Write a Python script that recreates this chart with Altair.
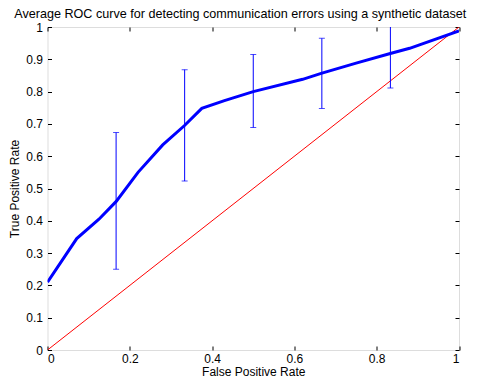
import altair as alt
import pandas as pd

# ROC curve (mean)
roc_fpr = [0.0, 0.071, 0.125, 0.167, 0.22, 0.28, 0.333, 0.375, 0.43, 0.5, 0.62, 0.667, 0.75, 0.833, 0.88, 1.0]
roc_tpr = [0.21, 0.345, 0.405, 0.46, 0.55, 0.635, 0.695, 0.748, 0.772, 0.80, 0.838, 0.857, 0.888, 0.918, 0.934, 0.988]

# error bars
err_fpr = [0.1667, 0.3333, 0.5, 0.6667, 0.8333]
err_low = [0.25, 0.523, 0.689, 0.748, 0.811]
err_high = [0.673, 0.868, 0.915, 0.965, 1.06]

# chance diagonal
diag_x = [0.0, 1.0]
diag_y = [0.0, 1.0]

ticks = [0, 0.2, 0.4, 0.6, 0.8, 1.0]
yticks = [0, 0.1, 0.2, 0.3, 0.4, 0.5, 0.6, 0.7, 0.8, 0.9, 1.0]

roc = pd.DataFrame({"x": roc_fpr, "y": roc_tpr, "o": list(range(len(roc_fpr)))})
err = pd.DataFrame({"x": err_fpr, "lo": err_low, "hi": err_high})
diag = pd.DataFrame({"x": diag_x, "y": diag_y})

FONT = "Liberation Sans"
xs = alt.Scale(domain=[0, 1], nice=False, zero=False)
ys = alt.Scale(domain=[0, 1], nice=False, zero=False)

common_axis = dict(domain=False, grid=False, tickSize=4, tickColor="black", tickWidth=1,
                   labelFont=FONT, labelFontSize=12, labelColor="black",
                   titleFont=FONT, titleFontSize=12, titleColor="black", titleFontWeight="normal")

x_bottom = alt.Axis(orient="bottom", values=ticks, format=".1~f", offset=-4, labelPadding=3,
                    title="False Positive Rate", titleY=29.5, titleBaseline="alphabetic", **common_axis)
y_left = alt.Axis(orient="left", values=yticks, format=".1~f", offset=-4, labelPadding=5,
                  title="True Positive Rate", titleX=-37, titleY=161.5, titleAngle=-90,
                  titleAlign="center", titleBaseline="middle", **common_axis)
x_top = alt.Axis(orient="top", values=ticks, offset=-4, labels=False, title=None, **common_axis)
y_right = alt.Axis(orient="right", values=yticks, offset=-4, labels=False, title=None, **common_axis)

diag_layer = alt.Chart(diag).mark_line(color="#ff0000", strokeWidth=1, clip=True).encode(
    x=alt.X("x:Q", scale=xs, axis=x_bottom),
    y=alt.Y("y:Q", scale=ys, axis=y_left),
)

roc_layer = alt.Chart(roc).mark_line(color="#0000ff", strokeWidth=3, clip=True).encode(
    x=alt.X("x:Q", scale=xs, axis=x_top),
    y=alt.Y("y:Q", scale=ys, axis=y_right),
    order="o:Q",
)

bars = alt.Chart(err).mark_rule(color="#0000ff", strokeWidth=1, clip=True).encode(
    x=alt.X("x:Q", scale=xs, axis=None),
    y=alt.Y("lo:Q", scale=ys, axis=None),
    y2="hi:Q",
)
cap_lo = alt.Chart(err).mark_tick(color="#0000ff", orient="horizontal", size=6, thickness=1, clip=True).encode(
    x=alt.X("x:Q", scale=xs, axis=None),
    y=alt.Y("lo:Q", scale=ys, axis=None),
)
cap_hi = alt.Chart(err).mark_tick(color="#0000ff", orient="horizontal", size=6, thickness=1, clip=True).encode(
    x=alt.X("x:Q", scale=xs, axis=None),
    y=alt.Y("hi:Q", scale=ys, axis=None),
)

chart = alt.layer(diag_layer, roc_layer, bars, cap_lo, cap_hi).resolve_axis(
    x="independent", y="independent"
).properties(
    width=411.5, height=323,
    autosize=alt.AutoSizeParams(type="none"),
    padding={"left": 39.5, "top": 19, "right": 13, "bottom": 28},
    title=alt.TitleParams("Average ROC curve for detecting communication errors using a synthetic dataset",
                          font=FONT, fontSize=12.6, fontWeight="normal", color="black",
                          anchor="middle", dx=-13, offset=0),
).configure_view(stroke="black", strokeWidth=1).configure(background="white")

chart.save("out.html", embed_options={"renderer": "svg", "actions": False})
